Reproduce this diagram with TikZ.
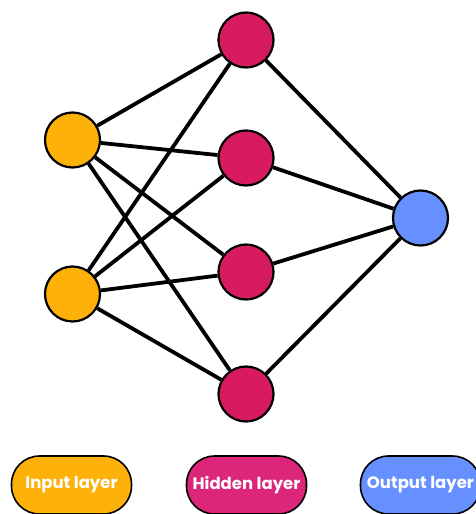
\documentclass[tikz,border=0pt]{standalone}
\usepackage{fontspec}
\setmainfont{Poppins}
\definecolor{inorange}{HTML}{FDB109}
\definecolor{hidmag}{HTML}{D81B60}
\definecolor{hidlab}{HTML}{DC267A}
\definecolor{outblue}{HTML}{6690FF}
\begin{document}
\begin{tikzpicture}[x=1pt,y=-1pt,
  neuron/.style={circle, draw=black, line width=2.2pt, minimum size=55pt, inner sep=0pt},
  edge/.style={line width=3.8pt, black},
  legend/.style={draw=black, line width=1.6pt, rounded corners=28pt, minimum width=120pt,
    minimum height=58pt, text=white, font=\bfseries\fontsize{16.5}{19}\selectfont, inner sep=0pt}]
  \useasboundingbox (0,0) rectangle (476,514);
  % neurons
  \node[neuron, fill=inorange] (i1) at (72.5,140) {};
  \node[neuron, fill=inorange] (i2) at (72.5,294) {};
  \node[neuron, fill=hidmag] (h1) at (246,40) {};
  \node[neuron, fill=hidmag] (h2) at (246,158) {};
  \node[neuron, fill=hidmag] (h3) at (246,272) {};
  \node[neuron, fill=hidmag] (h4) at (246,394) {};
  \node[neuron, fill=outblue] (o) at (420.5,218) {};
  % connections
  \foreach \a in {i1,i2}
    \foreach \b in {h1,h2,h3,h4}
      \draw[edge] (\a) -- (\b);
  \foreach \b in {h1,h2,h3,h4}
    \draw[edge] (\b) -- (o);
  % legend
  \node[legend, fill=inorange] (li) at (71.5,485) {Input layer};
  \node[legend, fill=hidlab] (lh) at (246.5,485) {Hidden layer};
  \node[legend, fill=outblue] (lo) at (420.5,485) {Output layer};
\end{tikzpicture}
\end{document}
